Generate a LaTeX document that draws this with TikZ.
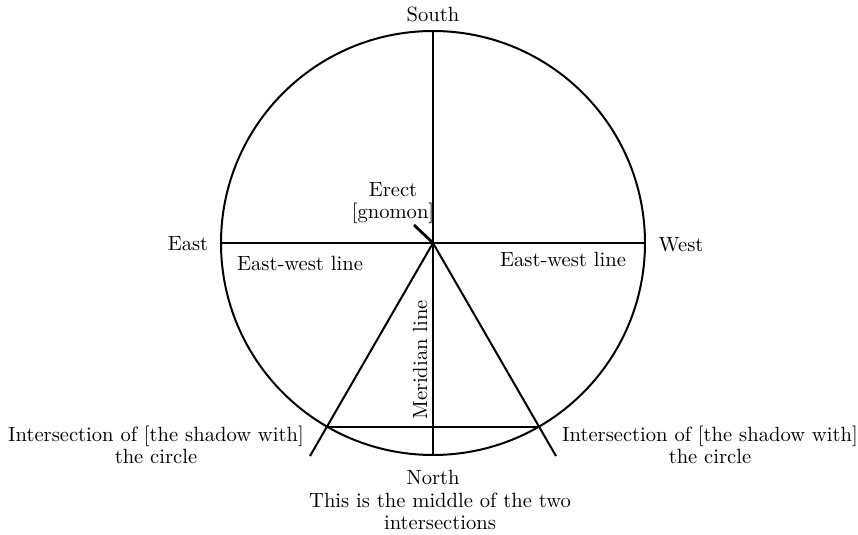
\documentclass[tikz,border=0pt]{standalone}
\usetikzlibrary{calc}
\begin{document}
\begin{tikzpicture}[x=0.5pt, y=0.5pt, line width=1pt,
    font=\fontsize{10.3}{11}\selectfont, lbl/.style={align=center, inner sep=1pt}]
  \useasboundingbox (-433,-292) rectangle (425,243);
  % circle drawn round the gnomon
  \coordinate (O) at (0,0);
  \draw (O) circle (212);
  \coordinate (S) at (90:212);
  \coordinate (N) at (270:212);
  \coordinate (E) at (180:212);
  \coordinate (W) at (0:212);
  \coordinate (I1) at (240:212);
  \coordinate (I2) at (300:212);
  \coordinate (T1) at (240:246);
  \coordinate (T2) at (300:246);
  \coordinate (G) at (-19,18);
  % lines
  \draw (E) -- (W);
  \draw (S) -- (N);
  \draw (O) -- (T1);
  \draw (O) -- (T2);
  \draw (I1) -- (I2);
  \draw[line width=1.4pt] (G) -- (O);
  % labels
  \node[lbl] (south) at (0,229) {South};
  \node[lbl] (east) at (-245,-1) {East};
  \node[lbl] (west) at (248,-2) {West};
  \node[lbl] (gnomon) at (-40,40) {Erect\\{[gnomon]}};
  \node[lbl] (ewl) at (-133,-20) {East-west line};
  \node[lbl] (ewr) at (130,-16) {East-west line};
  \node[lbl, rotate=90] (meridian) at (-13,-117) {Meridian line};
  \node[lbl] (int1) at (-277,-202) {Intersection of [the shadow with]\\the circle};
  \node[lbl] (int2) at (277,-202) {Intersection of [the shadow with]\\the circle};
  \node[lbl] (north) at (0,-234) {North};
  \node[lbl] (middle) at (7,-268) {This is the middle of the two\\intersections};
\end{tikzpicture}
\end{document}
